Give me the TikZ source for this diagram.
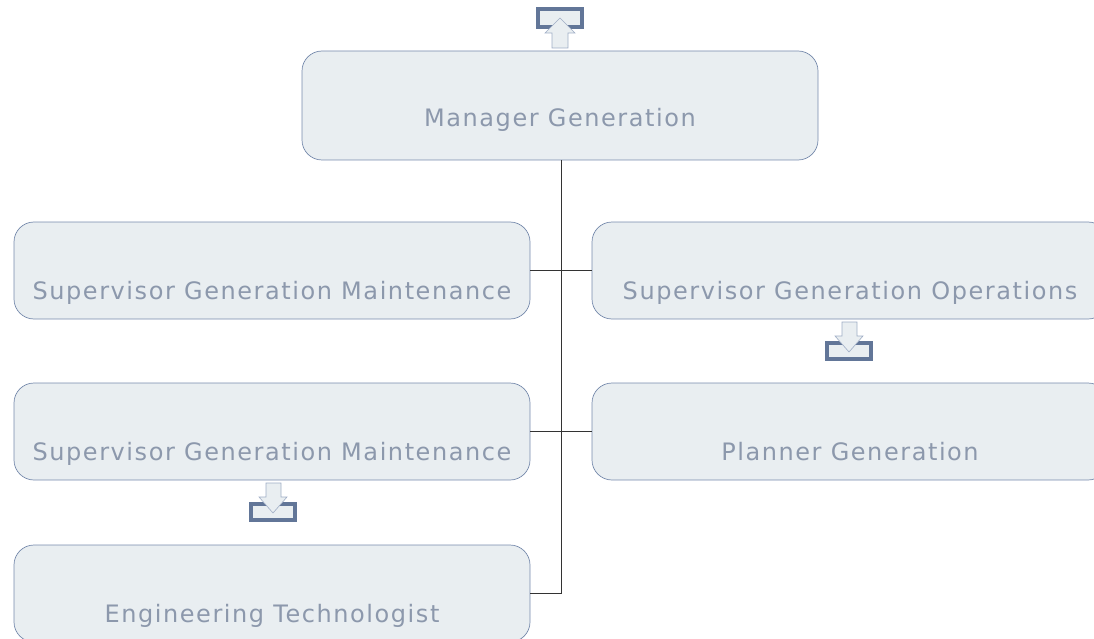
\documentclass[tikz,border=0pt]{standalone}
\usepackage{fontspec}
\setmainfont{DejaVu Sans}
\newfontfamily\boxfont[LetterSpace=6.5]{DejaVu Sans}
\usepackage{tikz}
\usetikzlibrary{calc}
\definecolor{boxfill}{RGB}{233,238,241}
\definecolor{boxline}{RGB}{118,138,172}
\definecolor{iconline}{RGB}{98,118,152}
\definecolor{txt}{RGB}{140,152,172}
\def\txtdown#1#2{\smash{\raisebox{-#1pt}{#2}}}
% icons: frame with block arrow, (#1,#2) = top-left corner
\def\iconup(#1,#2){\draw[iconline,line width=3.5pt,fill=boxfill] (#1+2,#2+2) rectangle (#1+46,#2+20);
  \draw[boxline!70,fill=boxfill,line width=0.6pt] (#1+16,#2+41) -- (#1+16,#2+26) -- (#1+9,#2+26) -- (#1+24,#2+11) -- (#1+39,#2+26) -- (#1+32,#2+26) -- (#1+32,#2+41) -- cycle;}
\def\icondown(#1,#2){\draw[iconline,line width=3.5pt,fill=boxfill] (#1+2,#2+21) rectangle (#1+46,#2+37);
  \draw[boxline!70,fill=boxfill,line width=0.6pt] (#1+17,#2) -- (#1+17,#2+14) -- (#1+10,#2+14) -- (#1+24,#2+30) -- (#1+38,#2+14) -- (#1+32,#2+14) -- (#1+32,#2) -- cycle;}
\begin{document}
\begin{tikzpicture}[x=1pt,y=-1pt,
  unit/.style={draw=boxline,fill=boxfill,rounded corners=20pt,line width=0.7pt,
    minimum width=516pt,inner sep=0pt,text=txt,font=\boxfont\fontsize{24}{28}\selectfont},
  link/.style={line width=0.8pt,black!80}]
  \useasboundingbox (0,0) rectangle (1094,639);
  %%%%% boxes %%%%%
  \node[unit,minimum height=109pt] (mgr) at (560,105.5) {\txtdown{21.5}{Manager Generation}};
  \node[unit,minimum height=97pt] (supl) at (272,270.5) {\txtdown{28.5}{Supervisor Generation Maintenance}};
  \node[unit,minimum height=97pt] (supr) at (850,270.5) {\txtdown{28.5}{Supervisor Generation Operations}};
  \node[unit,minimum height=97pt] (supm) at (272,431.5) {\txtdown{28.5}{Supervisor Generation Maintenance}};
  \node[unit,minimum height=97pt] (plan) at (850,431.5) {\txtdown{28.5}{Planner Generation}};
  \node[unit,minimum height=97pt] (eng) at (272,593.5) {\txtdown{28.5}{Engineering Technologist}};
  %%%%% links %%%%%
  \coordinate (trunk) at ($(mgr.south)+(1,0)$);
  \draw[link] (trunk) -- (trunk |- eng.east) -- (eng.east);
  \draw[link] (supl.east) -- (supr.west);
  \draw[link] (supm.east) -- (plan.west);
  %%%%% icons %%%%%
  \iconup(536,7)
  \icondown(825,322)
  \icondown(249,483)
\end{tikzpicture}
\end{document}
